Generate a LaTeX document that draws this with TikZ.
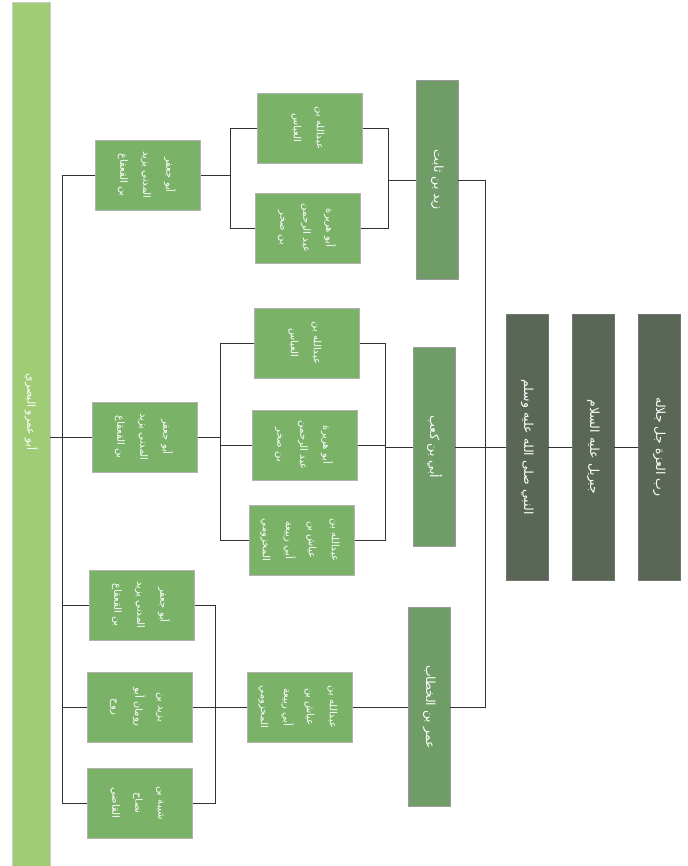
\documentclass[tikz,border=0pt]{standalone}
\usepackage{fontspec}
\newfontfamily\arabicfont[Script=Arabic]{DejaVu Sans}
\TeXXeTstate=1
\usetikzlibrary{positioning,calc}
\definecolor{darkbox}{RGB}{90,102,86}
\definecolor{midbox}{RGB}{112,156,104}
\definecolor{narrbox}{RGB}{122,178,104}
\definecolor{readerbox}{RGB}{160,204,118}
\newcommand{\arline}[1]{{\arabicfont\beginR #1\endR}}
\newcommand{\vtext}[1]{\rotatebox{-90}{\begin{tabular}{@{}c@{}}#1\end{tabular}}}

\begin{document}
\begin{tikzpicture}[x=1pt,y=-1pt,
  every node/.style={rectangle,inner sep=0pt,text=white},
  lordbox/.style={draw=black!55,fill=darkbox,minimum width=42pt,minimum height=266pt,font=\fontsize{12.5}{15}\selectfont},
  sahabibox/.style={draw=black!40,fill=midbox,minimum width=42pt,minimum height=199pt,font=\fontsize{12.5}{15}\selectfont},
  narrbox/.style={draw=black!30,fill=narrbox,minimum width=105pt,minimum height=70pt,font=\fontsize{10}{23}\selectfont},
  readerbox/.style={draw=black!20,fill=readerbox,minimum width=38pt,minimum height=864pt,font=\fontsize{11}{13}\selectfont},
  link/.style={line width=0.9pt,draw=black!80}]
\useasboundingbox (0,0) rectangle (687,866);
%
\node (rab) [lordbox] at (659,447) {\vtext{\arline{رب العزة جل جلاله}}};
\node (jibril) [lordbox] at (593,447) {\vtext{\arline{جبريل عليه السلام}}};
\node (nabi) [lordbox] at (527,447) {\vtext{\arline{النبي صلى الله عليه وسلم}}};
%
\node (zayd) [sahabibox] at (437,180) {\vtext{\arline{زيد بن ثابت}}};
\node (ubayy) [sahabibox] at (434,447) {\vtext{\arline{أبي بن كعب}}};
\node (umar) [sahabibox] at (429,707) {\vtext{\arline{عمر بن الخطاب}}};
%
\node (abbas1) [narrbox] at (310,128) {\vtext{\arline{عبدالله بن}\\\arline{العباس}}};
\node (hurayra1) [narrbox] at (308,228) {\vtext{\arline{أبو هريرة}\\\arline{عبد الرحمن}\\\arline{بن صخر}}};
\node (abbas2) [narrbox] at (307,343) {\vtext{\arline{عبدالله بن}\\\arline{العباس}}};
\node (hurayra2) [narrbox] at (305,445) {\vtext{\arline{أبو هريرة}\\\arline{عبد الرحمن}\\\arline{بن صخر}}};
\node (ayyash2) [narrbox] at (302,540) {\vtext{\arline{عبدالله بن}\\\arline{عياش بن}\\\arline{أبي ربيعة}\\\arline{المخزومي}}};
\node (ayyash3) [narrbox] at (300,707) {\vtext{\arline{عبدالله بن}\\\arline{عياش بن}\\\arline{أبي ربيعة}\\\arline{المخزومي}}};
%
\node (jafar1) [narrbox] at (148,175) {\vtext{\arline{أبو جعفر}\\\arline{المدني يزيد}\\\arline{بن القعقاع}}};
\node (jafar2) [narrbox] at (145,437) {\vtext{\arline{أبو جعفر}\\\arline{المدني يزيد}\\\arline{بن القعقاع}}};
\node (jafar3) [narrbox] at (142,605) {\vtext{\arline{أبو جعفر}\\\arline{المدني يزيد}\\\arline{بن القعقاع}}};
\node (yazid) [narrbox] at (140,707) {\vtext{\arline{يزيد بن}\\\arline{رومان أبو}\\\arline{روح}}};
\node (shayba) [narrbox] at (140,803) {\vtext{\arline{شيبة بن}\\\arline{نصاح}\\\arline{القاضي}}};
%
\node (basri) [readerbox] at (31,434) {\vtext{\arline{أبو عمرو البصري}\hspace*{44pt}}};
%
\coordinate (nbus) at (485,447);
\coordinate (zbus) at (388,180);
\coordinate (zbusl) at (230,175);
\coordinate (ubus) at (385,447);
\coordinate (ubusl) at (220,437);
\coordinate (obus) at (215,707);
\coordinate (lbus) at (62,437);
%
\draw[link] (nabi) -- (jibril);
\draw[link] (jibril) -- (rab);
\draw[link] (ubayy) -- (nabi);
\draw[link] (zayd.east) -| (nbus);
\draw[link] (umar.east) -| (nbus);
%
\draw[link] (zayd.west) -- (zbus);
\draw[link] (abbas1.east) -| (zbus);
\draw[link] (hurayra1.east) -| (zbus);
\draw[link] (abbas1.west) -| (zbusl);
\draw[link] (hurayra1.west) -| (zbusl);
\draw[link] (zbusl) -- (jafar1.east);
%
\draw[link] (ubayy.west) -- (ubus);
\draw[link] (abbas2.east) -| (ubus);
\draw[link] (hurayra2.east) -| (ubus);
\draw[link] (ayyash2.east) -| (ubus);
\draw[link] (abbas2.west) -| (ubusl);
\draw[link] (hurayra2.west) -| (ubusl);
\draw[link] (ayyash2.west) -| (ubusl);
\draw[link] (ubusl) -- (jafar2.east);
%
\draw[link] (ayyash3) -- (umar);
\draw[link] (ayyash3) -- (yazid);
\draw[link] (jafar3.east) -| (obus);
\draw[link] (shayba.east) -| (obus);
%
\draw[link] (basri.east |- jafar2) -- (jafar2.west);
\draw[link] (jafar1.west) -| (lbus);
\draw[link] (jafar3.west) -| (lbus);
\draw[link] (yazid.west) -| (lbus);
\draw[link] (shayba.west) -| (lbus);
%
\end{tikzpicture}
\end{document}
